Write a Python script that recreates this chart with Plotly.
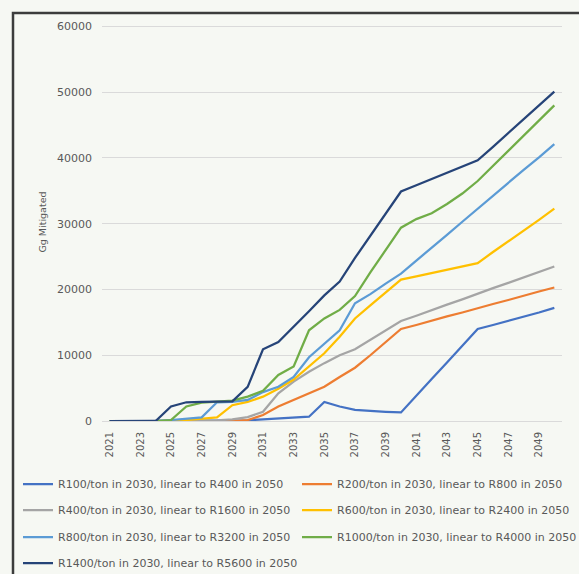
import plotly.graph_objects as go

# Years on the category axis
years = list(range(2021, 2051))
tick_years = years[::2]

# Mitigation (Gg) per carbon-price pathway
r100 = [0, 0, 0, 0, 0, 0, 0, 0, 0, 100, 250, 350, 450, 650, 2900, 2200, 1700, 1500,
        1400, 1300, 3900, 6400, 8900, 11400, 14000, 14600, 15200, 15900, 16500, 17200]
r200 = [0, 0, 0, 0, 0, 0, 0, 0, 0, 150, 900, 2200, 3200, 4200, 5200, 6700, 8100, 10000,
        12000, 14000, 14600, 15300, 15900, 16500, 17200, 17800, 18400, 19100, 19700, 20300]
r400 = [0, 0, 0, 0, 0, 0, 0, 100, 250, 600, 1400, 4200, 6000, 7500, 8800, 10000, 10900, 12300,
        13700, 15200, 16000, 16900, 17700, 18500, 19400, 20200, 21000, 21800, 22700, 23500]
r600 = [0, 0, 0, 0, 0, 150, 300, 550, 2400, 2900, 3700, 4900, 6300, 8300, 10300, 12800, 15600, 17600,
        19600, 21500, 22000, 22500, 23000, 23500, 24000, 25700, 27300, 29000, 30600, 32300]
r800 = [0, 0, 0, 0, 150, 350, 550, 2850, 2900, 3200, 4400, 5200, 6700, 9700, 11800, 13800, 17900, 19300,
        20900, 22400, 24400, 26300, 28300, 30300, 32300, 34200, 36200, 38200, 40100, 42100]
r1000 = [0, 0, 0, 0, 150, 2200, 2800, 2900, 3100, 3700, 4600, 7000, 8300, 13800, 15600, 16900, 19000, 22600,
         25950, 29400, 30700, 31600, 33000, 34600, 36500, 38800, 41100, 43400, 45700, 48000]
r1400 = [0, 0, 0, 0, 2200, 2850, 2900, 3000, 3000, 5200, 10900, 12000, 14300, 16700, 19100, 21200, 24800, 28200,
         31500, 34900, 35850, 36800, 37750, 38700, 39650, 41700, 43800, 45900, 48000, 50100]

y_ticks = [0, 10000, 20000, 30000, 40000, 50000, 60000]

series_names = [
    "R100/ton in 2030, linear to R400 in 2050",
    "R200/ton in 2030, linear to R800 in 2050",
    "R400/ton in 2030, linear to R1600 in 2050",
    "R600/ton in 2030, linear to R2400 in 2050",
    "R800/ton in 2030, linear to R3200 in 2050",
    "R1000/ton in 2030, linear to R4000 in 2050",
    "R1400/ton in 2030, linear to R5600 in 2050",
]
series_values = [r100, r200, r400, r600, r800, r1000, r1400]
colors = ["#4472C4", "#ED7D31", "#A5A5A5", "#FFC000", "#5B9BD5", "#70AD47", "#264478"]

# Plot-area geometry in pixels, used to place the legend rows and the frame
W, H = 579, 574
ML, MR, MT, MB = 102, 17, 23, 153
PW, PH = W - ML - MR, H - MT - MB
# headroom above the top gridline so it is not clipped at the plot edge
Y_MAX = 60530


def px_x(px):
    return (px - ML) / PW


def px_y(py):
    return (H - MB - py) / PH


bg = "#f6f8f3"
txt = "#595959"
font_family = "DejaVu Sans"

# one legend per entry: two columns, four rows
col_x = [18, 297]
row_y = [484, 510, 537, 563]

fig = go.Figure()
legend_layouts = {}
for i, (name, vals, col) in enumerate(zip(series_names, series_values, colors)):
    key = "legend" if i == 0 else f"legend{i + 1}"
    fig.add_trace(go.Scatter(
        x=years, y=vals, mode="lines", name=name,
        line=dict(color=col, width=2.25),
        legend=key,
    ))
    legend_layouts[key] = dict(
        x=px_x(col_x[i % 2]), y=px_y(row_y[i // 2]),
        xanchor="left", yanchor="middle",
        bgcolor="rgba(0,0,0,0)", borderwidth=0,
        font=dict(family=font_family, size=11, color=txt),
        itemclick=False, itemdoubleclick=False,
    )

fig.update_layout(
    width=W, height=H,
    margin=dict(l=ML, r=MR, t=MT, b=MB, pad=0, autoexpand=False),
    paper_bgcolor=bg, plot_bgcolor=bg,
    showlegend=True,
    font=dict(family=font_family, color=txt),
    **legend_layouts,
)

fig.update_xaxes(
    range=[2020.5, 2050.5],
    tickvals=tick_years, ticktext=[str(y) for y in tick_years],
    tickangle=-90, tickfont=dict(size=10, color=txt),
    showgrid=False, zeroline=False, showline=False, ticks="",
    ticklabelstandoff=8,
)
fig.update_yaxes(
    range=[0, Y_MAX], tickvals=y_ticks, tickformat="d",
    tickfont=dict(size=11, color=txt),
    showgrid=True, gridcolor="#dadada", gridwidth=1,
    zeroline=True, zerolinecolor="#dadada", zerolinewidth=1,
    showline=False, ticks="", ticklabelstandoff=9,
    title=dict(text="Gg Mitigated", font=dict(size=9.5, color=txt), standoff=8),
)

# outer chart frame (top and left edges fall inside the page)
fig.add_shape(
    type="rect", xref="paper", yref="paper",
    x0=px_x(13), x1=px_x(640), y0=px_y(640), y1=px_y(13),
    line=dict(color="#3c3c3c", width=2.5), fillcolor="rgba(0,0,0,0)", layer="below",
)

fig.write_html("out.html")
